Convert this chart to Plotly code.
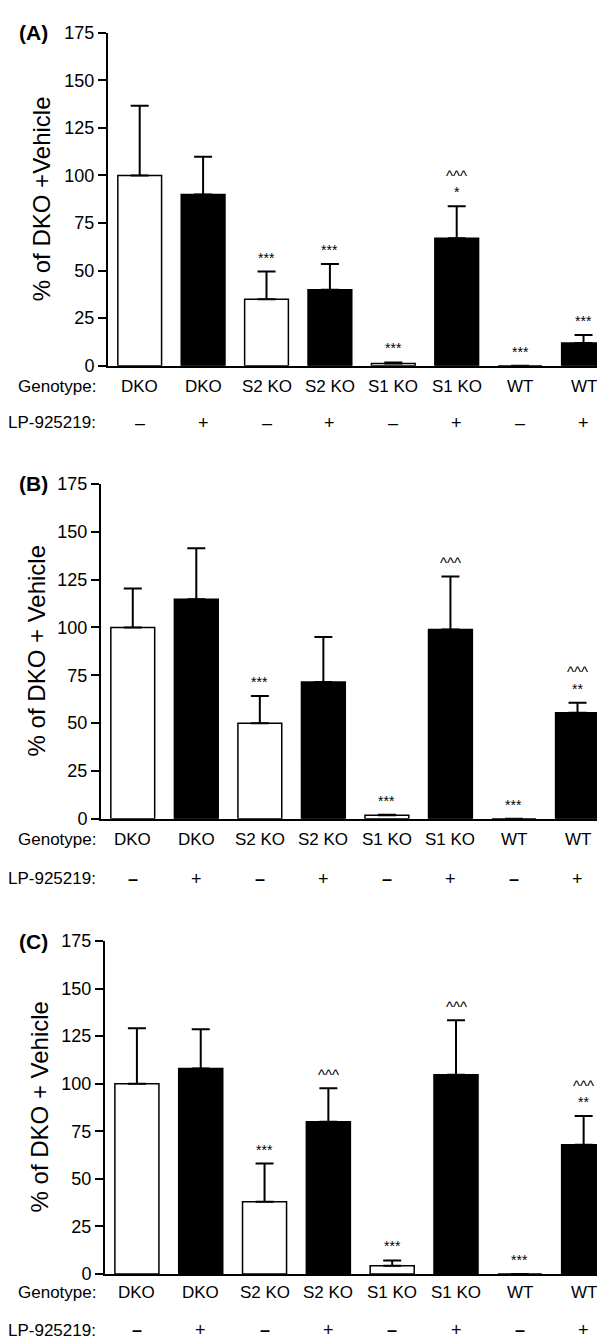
import plotly.graph_objects as go

# ---------------- data ----------------
genotypes = ["DKO", "DKO", "S2 KO", "S2 KO", "S1 KO", "S1 KO", "WT", "WT"]
lp_treat = ["–", "+", "–", "+", "–", "+", "–", "+"]
y_ticks = [0, 25, 50, 75, 100, 125, 150, 175]

a_vals = [100, 90, 35, 40, 1.2, 67, 0, 12]
a_err = [36.7, 19.8, 14.5, 13.5, 0.5, 16.8, 0, 4.1]
a_sig = ["", "", "***", "***", "***", "*", "***", "***"]
a_hat = ["", "", "", "", "", "^^^", "", ""]

b_vals = [100, 114.8, 50, 71.5, 1.9, 99, 0, 55.4]
b_err = [20.4, 26.6, 14.2, 23.5, 0.3, 27.7, 0, 5.3]
b_sig = ["", "", "***", "", "***", "", "***", "**"]
b_hat = ["", "", "", "", "", "^^^", "", "^^^"]

c_vals = [100, 108, 38, 80, 4.3, 104.7, 0, 67.9]
c_err = [29.1, 20.6, 20, 17.6, 2.8, 28.6, 0, 15.1]
c_sig = ["", "", "***", "", "***", "", "***", "**"]
c_hat = ["", "", "", "^^^", "", "^^^", "", "^^^"]

panels = [
    dict(tag="(A)", vals=a_vals, err=a_err, sig=a_sig, hat=a_hat,
         ytitle="% of DKO +Vehicle"),
    dict(tag="(B)", vals=b_vals, err=b_err, sig=b_sig, hat=b_hat,
         ytitle="% of DKO + Vehicle"),
    dict(tag="(C)", vals=c_vals, err=c_err, sig=c_sig, hat=c_hat,
         ytitle="% of DKO + Vehicle"),
]

# ---------------- layout geometry (pixels) ----------------
W, H = 605, 1339
geo = [
    dict(x0=100, x1=605, xr=7.465, ytop=15, ybot=353, gen_y=374, lp_y=411, title_x=33),
    dict(x0=93, x1=600, xr=7.48, ytop=473, ybot=813, gen_y=834, lp_y=874, title_x=28),
    dict(x0=97, x1=605, xr=7.46, ytop=937, ybot=1275, gen_y=1294, lp_y=1332, title_x=31),
]

FONT = "Liberation Sans, Arial, sans-serif"
fills = ["white" if s == "–" else "black" for s in lp_treat]
xs = list(range(len(genotypes)))

fig = go.Figure()
annotations = []
layout_axes = {}

for i, (p, g) in enumerate(zip(panels, geo)):
    n = "" if i == 0 else str(i + 1)
    xa, ya = "x" + n, "y" + n
    fig.add_trace(go.Bar(
        x=xs, y=p["vals"], xaxis=xa, yaxis=ya, width=0.69,
        marker=dict(color=fills, line=dict(color="black", width=1.5)),
        error_y=dict(type="data", symmetric=False, array=p["err"],
                     arrayminus=[0] * len(xs), color="black",
                     thickness=2, width=9, visible=True),
        showlegend=False, hoverinfo="skip"))
    layout_axes["xaxis" + n] = dict(
        domain=[g["x0"] / W, g["x1"] / W], range=[-0.5, g["xr"]],
        anchor=ya, showline=True, linecolor="black", linewidth=2,
        showticklabels=False, ticks="", showgrid=False, zeroline=False,
        fixedrange=True)
    layout_axes["yaxis" + n] = dict(
        domain=[1 - g["ybot"] / H, 1 - g["ytop"] / H], range=[0, 175],
        anchor=xa, showline=True, linecolor="black", linewidth=2,
        ticks="outside", ticklen=8, tickwidth=2, tickcolor="black",
        tickvals=y_ticks, tickfont=dict(family=FONT, size=18, color="black"),
        showgrid=False, zeroline=False, fixedrange=True)

    # significance markers
    for k in xs:
        top = p["vals"][k] + p["err"][k]
        if p["sig"][k]:
            annotations.append(dict(
                x=k, y=top, xref=xa, yref=ya, text=p["sig"][k], showarrow=False,
                yanchor="middle", yshift=14,
                font=dict(family=FONT, size=14, color="black")))
        if p["hat"][k]:
            annotations.append(dict(
                x=k, y=top, xref=xa, yref=ya, text=p["hat"][k], showarrow=False,
                yanchor="middle", yshift=31 if p["sig"][k] else 14,
                font=dict(family=FONT, size=15, color="black")))
    # category rows
    for k in xs:
        annotations.append(dict(
            x=k, y=1 - g["gen_y"] / H, xref=xa, yref="paper", text=genotypes[k],
            showarrow=False, yanchor="middle",
            font=dict(family=FONT, size=17, color="black")))
        lab = lp_treat[k]
        if i > 0 and lab == "–":
            lab = "<b>–</b>"
        annotations.append(dict(
            x=k, y=1 - g["lp_y"] / H, xref=xa, yref="paper", text=lab,
            showarrow=False, yanchor="middle",
            font=dict(family=FONT, size=18, color="black")))
    annotations.append(dict(
        x=90 / W, y=1 - g["gen_y"] / H, xref="paper", yref="paper",
        text="Genotype:", showarrow=False, xanchor="right", yanchor="middle",
        font=dict(family=FONT, size=17, color="black")))
    annotations.append(dict(
        x=90 / W, y=1 - g["lp_y"] / H, xref="paper", yref="paper",
        text="LP-925219:", showarrow=False, xanchor="right", yanchor="middle",
        font=dict(family=FONT, size=17, color="black")))
    # panel tag
    annotations.append(dict(
        x=9 / W, y=1 - g["ytop"] / H, xref="paper", yref="paper",
        text="<b>" + p["tag"] + "</b>", showarrow=False, xanchor="left",
        yanchor="middle", font=dict(family=FONT, size=21, color="black")))
    # y-axis title
    annotations.append(dict(
        x=g["title_x"] / W, y=1 - (g["ytop"] + g["ybot"]) / 2 / H,
        xref="paper", yref="paper", text=p["ytitle"], textangle=-90,
        showarrow=False, xanchor="center", yanchor="middle",
        font=dict(family=FONT, size=24, color="black")))

fig.update_layout(
    width=W, height=H, margin=dict(l=0, r=0, t=0, b=0),
    paper_bgcolor="white", plot_bgcolor="white",
    annotations=annotations, bargap=0.31, **layout_axes)

fig.write_html("out.html")
